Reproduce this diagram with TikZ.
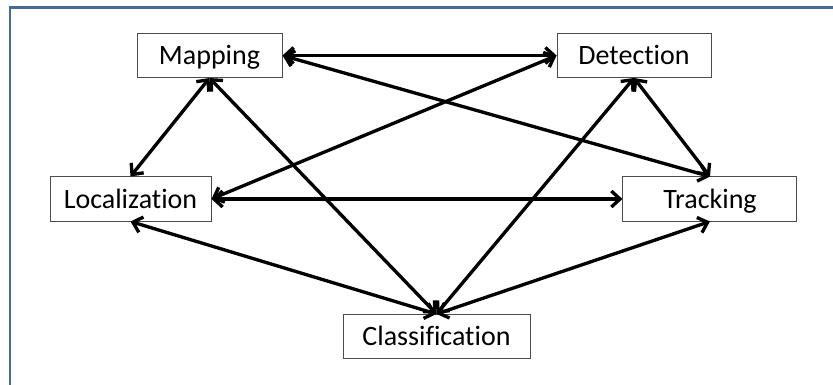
\documentclass[tikz,border=0pt]{standalone}
\usepackage{fontspec}
\setmainfont{Carlito}[Ligatures=NoCommon]
\usepackage{xcolor}
\usepackage{tikz}
\usetikzlibrary{shapes,arrows,positioning,calc,arrows.meta}
\definecolor{frameblue}{RGB}{70,106,158}

\begin{document}
\begin{tikzpicture}[x=0.75pt, y=-0.75pt, task block/.style={draw=black!70, line width=0.75pt, rectangle, minimum height=33pt, align=center, font=\fontsize{21}{25}\selectfont, text height=17pt, text depth=2.8pt}, link/.style={{Straight Barb[length=6.5pt,width=12pt]}-{Straight Barb[length=6.5pt,width=12pt]}, line width=2.5pt}]
    \useasboundingbox (0,0) rectangle (833,385);
    \draw[frameblue, line width=1.6pt] (10,385) -- (10,7.5) -- (833,7.5);

    \node[task block, minimum width=108.75pt] (map) at (209.5,55.5) {Mapping};
    \node[task block, minimum width=115.5pt, right of=map, node distance=318.4pt] (det) {Detection};
    \node[task block, minimum width=120.75pt] (loc) at (130.5,199) {Localization};
    \node[task block, minimum width=130.5pt, right of=loc, node distance=434.6pt] (trk) {Tracking};
    \node[task block, minimum width=140.25pt] (cls) at (436.5,336.5) {Classification};
    
    \draw[link] (map.east) -- (det.west);
    \draw[link] (map.east) -- (trk.north);
    \draw[link] (map.south) -- (loc.north);
    \draw[link] (map.south) -- (cls.north);
    \draw[link] (det.west) -- (loc.east);
    \draw[link] (det.south) -- (trk.north);
    \draw[link] (det.south) -- (cls.north);
    \draw[link] (loc.east) -- (trk.west);
    \draw[link] (loc.south) -- (cls.north);
    \draw[link] (trk.south) -- (cls.north);

\end{tikzpicture}
\end{document}
